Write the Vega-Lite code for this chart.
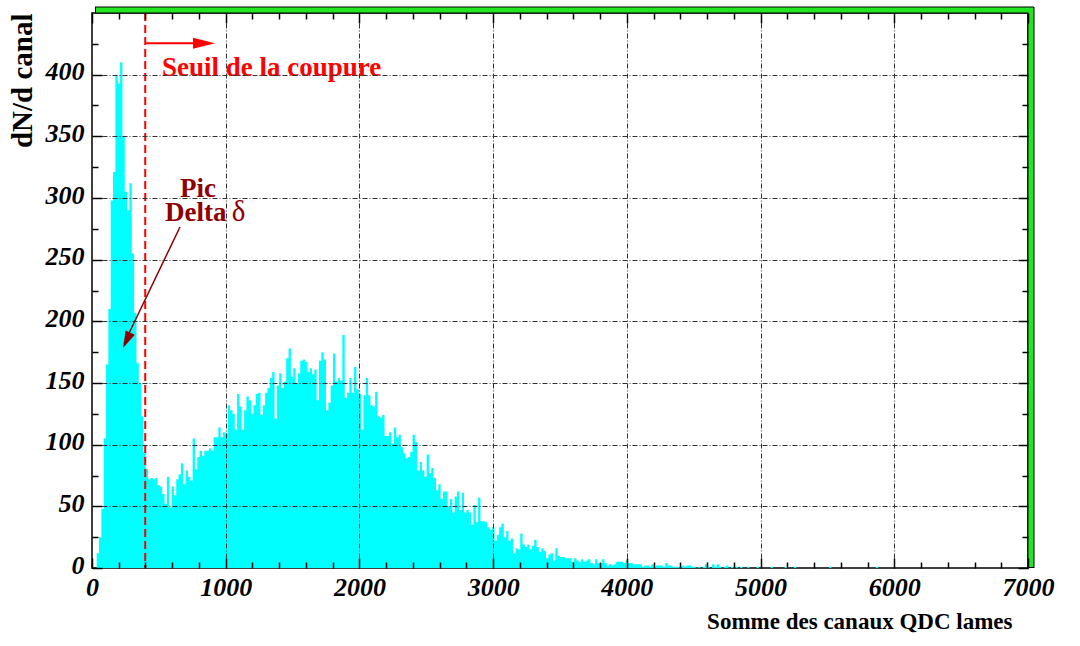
{
  "$schema": "https://vega.github.io/schema/vega-lite/v6.json",
  "width": 936,
  "height": 555,
  "autosize": "none",
  "padding": {"left": 92, "top": 13, "right": 52, "bottom": 78},
  "background": "white",
  "config": {"view": {"stroke": "#000", "strokeWidth": 1.5}, "font": "Liberation Serif"},
  "datasets": {
    "one": [{}],
    "hist": [
      {"c":0,"n":0},{"c":17.5,"n":0},{"c":35,"n":12},{"c":52.5,"n":25},{"c":70,"n":48},{"c":87.5,"n":105},{"c":105,"n":165},{"c":122.5,"n":210},{"c":140,"n":298},{"c":157.5,"n":321},
      {"c":175,"n":400},{"c":192.5,"n":393},{"c":210,"n":410},{"c":227.5,"n":350},{"c":245,"n":305},{"c":262.5,"n":290},{"c":280,"n":312},{"c":297.5,"n":255},{"c":315,"n":207},{"c":332.5,"n":166},
      {"c":350,"n":150},{"c":367.5,"n":123},{"c":385,"n":94},{"c":402.5,"n":80},{"c":420,"n":72},{"c":437.5,"n":73},{"c":455,"n":72},{"c":472.5,"n":73},{"c":490,"n":67},{"c":507.5,"n":66},
      {"c":525,"n":60},{"c":542.5,"n":52},{"c":560,"n":74},{"c":577.5,"n":49},{"c":595,"n":66},{"c":612.5,"n":59},{"c":630,"n":72},{"c":647.5,"n":76},{"c":665,"n":85},{"c":682.5,"n":68},
      {"c":700,"n":79},{"c":717.5,"n":74},{"c":735,"n":71},{"c":752.5,"n":105},{"c":770,"n":80},{"c":787.5,"n":90},{"c":805,"n":95},{"c":822.5,"n":91},{"c":840,"n":95},{"c":857.5,"n":95},
      {"c":875,"n":97},{"c":892.5,"n":95},{"c":910,"n":106},{"c":927.5,"n":106},{"c":945,"n":114},{"c":962.5,"n":106},{"c":980,"n":110},{"c":997.5,"n":109},{"c":1015,"n":132},{"c":1032.5,"n":128},
      {"c":1050,"n":125},{"c":1067.5,"n":112},{"c":1085,"n":141},{"c":1102.5,"n":131},{"c":1120,"n":112},{"c":1137.5,"n":128},{"c":1155,"n":139},{"c":1172.5,"n":136},{"c":1190,"n":125},{"c":1207.5,"n":132},
      {"c":1225,"n":141},{"c":1242.5,"n":142},{"c":1260,"n":124},{"c":1277.5,"n":132},{"c":1295,"n":142},{"c":1312.5,"n":146},{"c":1330,"n":154},{"c":1347.5,"n":159},{"c":1365,"n":121},{"c":1382.5,"n":148},
      {"c":1400,"n":158},{"c":1417.5,"n":146},{"c":1435,"n":151},{"c":1452.5,"n":170},{"c":1470,"n":178},{"c":1487.5,"n":155},{"c":1505,"n":162},{"c":1522.5,"n":150},{"c":1540,"n":158},{"c":1557.5,"n":168},
      {"c":1575,"n":169},{"c":1592.5,"n":167},{"c":1610,"n":159},{"c":1627.5,"n":162},{"c":1645,"n":157},{"c":1662.5,"n":161},{"c":1680,"n":136},{"c":1697.5,"n":168},{"c":1715,"n":175},{"c":1732.5,"n":169},
      {"c":1750,"n":128},{"c":1767.5,"n":134},{"c":1785,"n":148},{"c":1802.5,"n":174},{"c":1820,"n":151},{"c":1837.5,"n":154},{"c":1855,"n":152},{"c":1872.5,"n":189},{"c":1890,"n":138},{"c":1907.5,"n":142},
      {"c":1925,"n":154},{"c":1942.5,"n":142},{"c":1960,"n":163},{"c":1977.5,"n":145},{"c":1995,"n":141},{"c":2012.5,"n":112},{"c":2030,"n":140},{"c":2047.5,"n":154},{"c":2065,"n":140},{"c":2082.5,"n":132},
      {"c":2100,"n":131},{"c":2117.5,"n":143},{"c":2135,"n":123},{"c":2152.5,"n":122},{"c":2170,"n":124},{"c":2187.5,"n":107},{"c":2205,"n":107},{"c":2222.5,"n":110},{"c":2240,"n":101},{"c":2257.5,"n":114},
      {"c":2275,"n":106},{"c":2292.5,"n":108},{"c":2310,"n":98},{"c":2327.5,"n":93},{"c":2345,"n":89},{"c":2362.5,"n":90},{"c":2380,"n":94},{"c":2397.5,"n":108},{"c":2415,"n":102},{"c":2432.5,"n":79},
      {"c":2450,"n":86},{"c":2467.5,"n":79},{"c":2485,"n":74},{"c":2502.5,"n":92},{"c":2520,"n":77},{"c":2537.5,"n":81},{"c":2555,"n":73},{"c":2572.5,"n":63},{"c":2590,"n":68},{"c":2607.5,"n":56},
      {"c":2625,"n":62},{"c":2642.5,"n":62},{"c":2660,"n":50},{"c":2677.5,"n":56},{"c":2695,"n":45},{"c":2712.5,"n":58},{"c":2730,"n":62},{"c":2747.5,"n":47},{"c":2765,"n":61},{"c":2782.5,"n":45},
      {"c":2800,"n":47},{"c":2817.5,"n":45},{"c":2835,"n":35},{"c":2852.5,"n":51},{"c":2870,"n":37},{"c":2887.5,"n":57},{"c":2905,"n":38},{"c":2922.5,"n":38},{"c":2940,"n":37},{"c":2957.5,"n":33},
      {"c":2975,"n":31},{"c":2992.5,"n":33},{"c":3010,"n":22},{"c":3027.5,"n":27},{"c":3045,"n":33},{"c":3062.5,"n":36},{"c":3080,"n":25},{"c":3097.5,"n":30},{"c":3115,"n":22},{"c":3132.5,"n":24},
      {"c":3150,"n":12},{"c":3167.5,"n":16},{"c":3185,"n":15},{"c":3202.5,"n":28},{"c":3220,"n":19},{"c":3237.5,"n":17},{"c":3255,"n":19},{"c":3272.5,"n":15},{"c":3290,"n":18},{"c":3307.5,"n":23},
      {"c":3325,"n":17},{"c":3342.5,"n":13},{"c":3360,"n":16},{"c":3377.5,"n":14},{"c":3395,"n":8},{"c":3412.5,"n":11},{"c":3430,"n":12},{"c":3447.5,"n":6},{"c":3465,"n":16},{"c":3482.5,"n":10},
      {"c":3500,"n":9},{"c":3517.5,"n":9},{"c":3535,"n":8},{"c":3552.5,"n":8},{"c":3570,"n":8},{"c":3587.5,"n":5},{"c":3605,"n":8},{"c":3622.5,"n":6},{"c":3640,"n":5},{"c":3657.5,"n":7},
      {"c":3675,"n":5},{"c":3692.5,"n":6},{"c":3710,"n":7},{"c":3727.5,"n":4},{"c":3745,"n":3},{"c":3762.5,"n":7},{"c":3780,"n":4},{"c":3797.5,"n":4},{"c":3815,"n":7},{"c":3832.5,"n":4},
      {"c":3850,"n":2},{"c":3867.5,"n":3},{"c":3885,"n":2},{"c":3902.5,"n":3},{"c":3920,"n":5},{"c":3937.5,"n":5},{"c":3955,"n":5},{"c":3972.5,"n":4},{"c":3990,"n":6},{"c":4007.5,"n":4},
      {"c":4025,"n":4},{"c":4042.5,"n":3},{"c":4060,"n":3},{"c":4077.5,"n":3},{"c":4095,"n":3},{"c":4112.5,"n":1},{"c":4130,"n":2},{"c":4147.5,"n":2},{"c":4165,"n":1},{"c":4182.5,"n":3},
      {"c":4200,"n":1},{"c":4217.5,"n":2},{"c":4235,"n":2},{"c":4252.5,"n":2},{"c":4270,"n":1},{"c":4287.5,"n":4},{"c":4305,"n":2},{"c":4322.5,"n":2},{"c":4340,"n":1},{"c":4357.5,"n":1},
      {"c":4375,"n":1},{"c":4392.5,"n":0},{"c":4410,"n":2},{"c":4427.5,"n":1},{"c":4445,"n":2},{"c":4462.5,"n":2},{"c":4480,"n":1},{"c":4497.5,"n":1},{"c":4515,"n":0},{"c":4532.5,"n":1},
      {"c":4550,"n":0},{"c":4567.5,"n":1},{"c":4585,"n":3},{"c":4602.5,"n":1},{"c":4620,"n":0},{"c":4637.5,"n":3},{"c":4655,"n":1},{"c":4672.5,"n":3},{"c":4690,"n":1},{"c":4707.5,"n":0},
      {"c":4725,"n":1},{"c":4742.5,"n":2},{"c":4760,"n":0},{"c":4777.5,"n":1},{"c":4795,"n":0},{"c":4812.5,"n":1},{"c":4830,"n":0},{"c":4847.5,"n":1},{"c":4865,"n":0},
      {"c":4900,"n":1},{"c":4917.5,"n":0},{"c":4970,"n":1},{"c":4987.5,"n":0},{"c":5075,"n":1},{"c":5092.5,"n":0},{"c":5180,"n":1},{"c":5197.5,"n":0},{"c":5250,"n":1},{"c":5267.5,"n":0},
      {"c":5512.5,"n":1},{"c":5530,"n":0},{"c":5862.5,"n":1},{"c":5880,"n":0}
    ]
  },
  "resolve": {"axis": {"x": "independent", "y": "independent"}},
  "layer": [
    {
      "data": {"name": "hist"},
      "mark": {"type": "area", "interpolate": "step-after", "color": "#00ffff"},
      "encoding": {
        "x": {
          "field": "c", "type": "quantitative",
          "scale": {"domain": [0, 7000], "nice": false, "zero": false},
          "axis": {
            "orient": "bottom",
            "values": [0,200,400,600,800,1000,1200,1400,1600,1800,2000,2200,2400,2600,2800,3000,3200,3400,3600,3800,4000,4200,4400,4600,4800,5000,5200,5400,5600,5800,6000,6200,6400,6600,6800,7000],
            "labelExpr": "datum.value % 1000 === 0 ? '' + datum.value : ''",
            "labelFont": "Liberation Serif", "labelFontSize": 26, "labelFontStyle": "italic", "labelFontWeight": "bold", "labelColor": "#000",
            "labelPadding": 16, "labelBaseline": "top", "labelFlush": false, "labelOverlap": false,
            "tickSize": {"condition": {"test": "datum.value % 1000 === 0", "value": -10}, "value": -6},
            "tickColor": "#000", "tickWidth": 1.5,
            "domain": false,
            "grid": true, "gridColor": "#333", "gridDash": [5, 2, 1, 2], "gridWidth": 1,
            "gridOpacity": {"condition": {"test": "datum.value % 1000 === 0 && datum.value > 0 && datum.value < 7000", "value": 1}, "value": 0},
            "title": "Somme des canaux QDC lames",
            "titleFont": "Liberation Serif", "titleFontSize": 23, "titleFontWeight": "bold", "titleColor": "#000",
            "titleAnchor": "end", "titleAlign": "right", "titleX": 920, "titleY": 60, "titleBaseline": "alphabetic",
            "zindex": 1
          }
        },
        "y": {
          "field": "n", "type": "quantitative",
          "scale": {"domain": [0, 450], "nice": false, "zero": true},
          "axis": {
            "orient": "left",
            "values": [0,25,50,75,100,125,150,175,200,225,250,275,300,325,350,375,400,425],
            "labelExpr": "datum.value % 50 === 0 ? '' + datum.value : ''",
            "labelFont": "Liberation Serif", "labelFontSize": 26, "labelFontStyle": "italic", "labelFontWeight": "bold", "labelColor": "#000",
            "labelPadding": 18, "labelOffset": -3, "labelFlush": false, "labelOverlap": false,
            "tickSize": {"condition": {"test": "datum.value % 50 === 0", "value": -10}, "value": -6},
            "tickColor": "#000", "tickWidth": 1.5,
            "domain": false,
            "grid": true, "gridColor": "#333", "gridDash": [5, 2, 1, 2], "gridWidth": 1,
            "gridOpacity": {"condition": {"test": "datum.value % 50 === 0 && datum.value > 0", "value": 1}, "value": 0},
            "title": "dN/d canal",
            "titleFont": "Liberation Serif", "titleFontSize": 29, "titleFontWeight": "bold", "titleColor": "#000",
            "titleAnchor": "end", "titlePadding": 8,
            "zindex": 1
          }
        }
      }
    },
    {
      "data": {"name": "hist"},
      "mark": {"type": "point", "opacity": 0},
      "encoding": {
        "x": {
          "field": "c", "type": "quantitative",
          "axis": {
            "orient": "top",
            "values": [0,200,400,600,800,1000,1200,1400,1600,1800,2000,2200,2400,2600,2800,3000,3200,3400,3600,3800,4000,4200,4400,4600,4800,5000,5200,5400,5600,5800,6000,6200,6400,6600,6800,7000],
            "labels": false, "domain": false, "grid": false, "title": null,
            "tickSize": {"condition": {"test": "datum.value % 1000 === 0", "value": -10}, "value": -6},
            "tickColor": "#000", "tickWidth": 1.5, "zindex": 1
          }
        },
        "y": {
          "field": "n", "type": "quantitative",
          "axis": {
            "orient": "right",
            "values": [0,25,50,75,100,125,150,175,200,225,250,275,300,325,350,375,400,425],
            "labels": false, "domain": false, "grid": false, "title": null,
            "tickSize": {"condition": {"test": "datum.value % 50 === 0", "value": -10}, "value": -6},
            "tickColor": "#000", "tickWidth": 1.5, "zindex": 1
          }
        }
      }
    },
    {
      "data": {"name": "one"},
      "mark": {"type": "rule", "color": "#ff0000", "strokeWidth": 2, "strokeDash": [8, 4]},
      "encoding": {"x": {"datum": 398, "type": "quantitative", "axis": null}}
    },
    {
      "data": {"name": "one"},
      "mark": {"type": "rule", "color": "#ff0000", "strokeWidth": 2},
      "encoding": {
        "x": {"datum": 398, "type": "quantitative", "axis": null},
        "x2": {"datum": 880},
        "y": {"datum": 425.4, "type": "quantitative", "axis": null}
      }
    },
    {
      "data": {"name": "one"},
      "mark": {"type": "point", "shape": "M 0 0 L -2 -0.5 L -2 0.5 Z", "size": 484, "filled": true, "color": "#ff0000", "opacity": 1, "strokeWidth": 0},
      "encoding": {
        "x": {"datum": 920, "type": "quantitative", "axis": null},
        "y": {"datum": 425.4, "type": "quantitative", "axis": null}
      }
    },
    {
      "data": {"name": "one"},
      "mark": {"type": "text", "text": "Seuil de la coupure", "font": "Liberation Serif", "fontSize": 27, "fontWeight": "bold", "color": "#ff0000", "align": "left", "baseline": "alphabetic"},
      "encoding": {
        "x": {"datum": 523, "type": "quantitative", "axis": null},
        "y": {"datum": 399, "type": "quantitative", "axis": null}
      }
    },
    {
      "data": {"name": "one"},
      "mark": {"type": "text", "text": "Pic", "font": "Liberation Serif", "fontSize": 27, "fontWeight": "bold", "color": "#8f0000", "align": "center", "baseline": "alphabetic"},
      "encoding": {
        "x": {"datum": 793, "type": "quantitative", "axis": null},
        "y": {"datum": 301, "type": "quantitative", "axis": null}
      }
    },
    {
      "data": {"name": "one"},
      "mark": {"type": "text", "text": "Delta", "font": "Liberation Serif", "fontSize": 27, "fontWeight": "bold", "color": "#8f0000", "align": "left", "baseline": "alphabetic"},
      "encoding": {
        "x": {"datum": 546, "type": "quantitative", "axis": null},
        "y": {"datum": 281, "type": "quantitative", "axis": null}
      }
    },
    {
      "data": {"name": "one"},
      "mark": {"type": "text", "text": "δ", "font": "Liberation Serif", "fontSize": 29, "fontWeight": "normal", "color": "#8f0000", "align": "left", "baseline": "alphabetic"},
      "encoding": {
        "x": {"datum": 1045, "type": "quantitative", "axis": null},
        "y": {"datum": 281, "type": "quantitative", "axis": null}
      }
    },
    {
      "data": {"name": "one"},
      "mark": {"type": "rule", "color": "#8f0000", "strokeWidth": 1.5},
      "encoding": {
        "x": {"datum": 658, "type": "quantitative", "axis": null},
        "y": {"datum": 276.5, "type": "quantitative", "axis": null},
        "x2": {"datum": 240},
        "y2": {"datum": 182}
      }
    },
    {
      "data": {"name": "one"},
      "mark": {"type": "point", "shape": "M 0 0 L -2 -0.6 L -2 0.6 Z", "size": 289, "filled": true, "color": "#8f0000", "opacity": 1, "strokeWidth": 0, "angle": 115.2},
      "encoding": {
        "x": {"datum": 232, "type": "quantitative", "axis": null},
        "y": {"datum": 178.4, "type": "quantitative", "axis": null}
      }
    },
    {
      "data": {"name": "one"},
      "mark": {"type": "rule", "color": "#000", "strokeWidth": 7, "xOffset": 3, "y2Offset": -6},
      "encoding": {
        "x": {"datum": 7000, "type": "quantitative", "axis": null},
        "y": {"datum": 0, "type": "quantitative", "axis": null},
        "y2": {"datum": 450}
      }
    },
    {
      "data": {"name": "one"},
      "mark": {"type": "rule", "color": "#000", "strokeWidth": 7, "yOffset": -3, "xOffset": 3, "x2Offset": 6},
      "encoding": {
        "y": {"datum": 450, "type": "quantitative", "axis": null},
        "x": {"datum": 0, "type": "quantitative", "axis": null},
        "x2": {"datum": 7000}
      }
    },
    {
      "data": {"name": "one"},
      "mark": {"type": "rule", "color": "#22e622", "strokeWidth": 5, "xOffset": 3, "y2Offset": -5, "yOffset": -1},
      "encoding": {
        "x": {"datum": 7000, "type": "quantitative", "axis": null},
        "y": {"datum": 0, "type": "quantitative", "axis": null},
        "y2": {"datum": 450}
      }
    },
    {
      "data": {"name": "one"},
      "mark": {"type": "rule", "color": "#22e622", "strokeWidth": 5, "yOffset": -3, "xOffset": 4, "x2Offset": 5},
      "encoding": {
        "y": {"datum": 450, "type": "quantitative", "axis": null},
        "x": {"datum": 0, "type": "quantitative", "axis": null},
        "x2": {"datum": 7000}
      }
    }
  ]
}
